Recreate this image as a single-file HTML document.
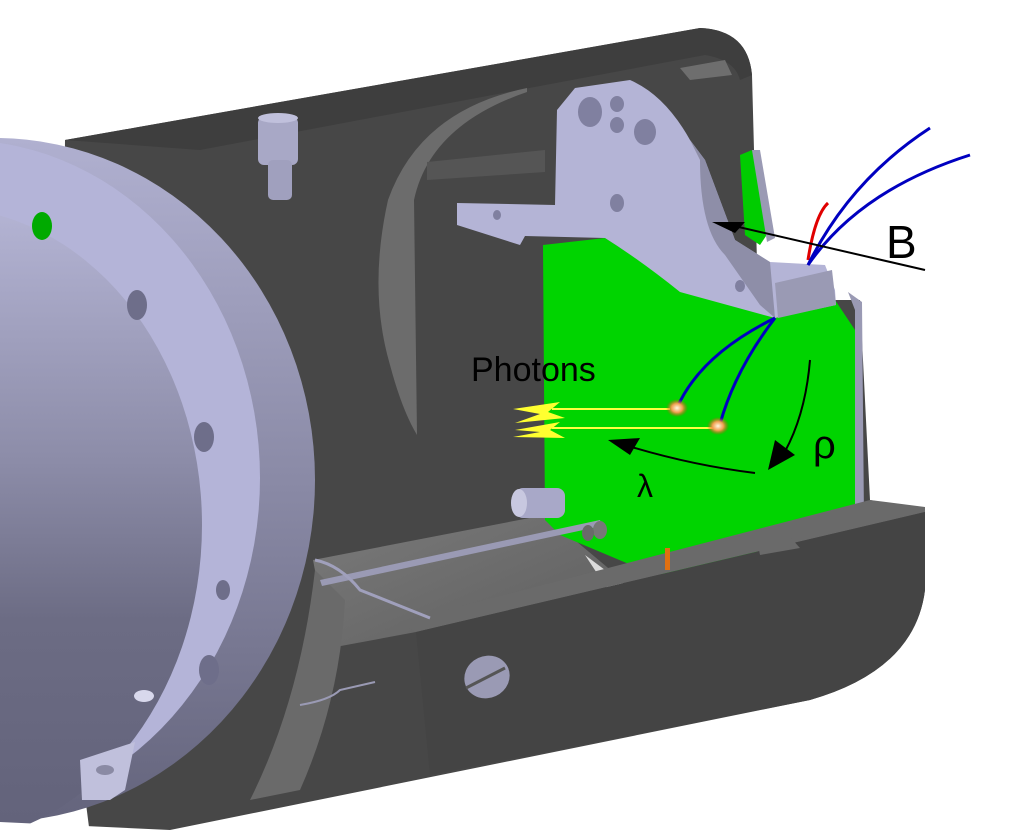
<!DOCTYPE html>
<html><head><meta charset="utf-8"><style>
html,body{margin:0;padding:0;background:#fff;overflow:hidden;}
svg{display:block;}
text{font-family:"Liberation Sans",sans-serif;}
</style></head><body>
<svg width="1024" height="835" viewBox="0 0 1024 835" xmlns="http://www.w3.org/2000/svg">
<defs>
<linearGradient id="dome" x1="0" y1="0" x2="0" y2="1">
<stop offset="0" stop-color="#b4b4d4"/><stop offset="0.4" stop-color="#8c8ca8"/><stop offset="0.65" stop-color="#6c6c84"/><stop offset="1" stop-color="#62627a"/></linearGradient>
<linearGradient id="rim" x1="0" y1="0" x2="0" y2="1">
<stop offset="0" stop-color="#b0b0d0"/><stop offset="0.5" stop-color="#8a8aa6"/><stop offset="1" stop-color="#64647c"/></linearGradient>
<linearGradient id="floor" x1="0" y1="0" x2="1" y2="1">
<stop offset="0" stop-color="#7a7a7a"/><stop offset="1" stop-color="#5e5e5e"/></linearGradient>
<radialGradient id="glow"><stop offset="0" stop-color="#fff8e0"/><stop offset="0.5" stop-color="#f0a050"/><stop offset="1" stop-color="#d04010" stop-opacity="0"/></radialGradient>
</defs>
<!-- housing base -->
<path d="M65,140 L700,28 Q748,30 752,75 L758,300 L860,300 L870,500 L925,510 L925,590 Q915,670 810,700 L170,830 L90,835 L60,600 Z" fill="#474747"/>
<path d="M65,140 L700,28 Q748,30 752,75 L740,80 Q735,60 705,55 L200,150 Z" fill="#3e3e3e"/>
<path d="M680,68 L725,60 L732,75 L690,80 Z" fill="#6e6e6e"/>
<!-- crescent -->
<path d="M527,88 Q420,110 388,200 Q368,290 390,365 Q402,410 417,435 L414,200 Q430,125 527,92 Z" fill="#6c6c6c"/>
<path d="M427,162 L545,150 L545,172 L427,180 Z" fill="#555"/>
<!-- floor -->
<path d="M313,560 L545,515 L620,578 L416,632 L330,648 Z" fill="url(#floor)"/>
<path d="M585,555 L625,585 L608,590 Z" fill="#dcdcdc"/>
<path d="M315,570 Q300,700 250,800 L300,790 Q340,700 345,600 Z" fill="#6a6a6a"/>
<!-- green panel -->
<path d="M543,245 L605,238 Q640,260 680,290 L775,318 L835,300 L855,330 L855,522 L757,540 L757,560 L655,575 L560,535 L545,520 Z" fill="#00d400"/>
<path d="M740,155 L752,150 L770,230 L760,245 L745,235 Z" fill="#00cc00"/>
<path d="M848,292 L862,302 L864,520 L855,522 L855,310 Z" fill="#9a9ab4"/>
<path d="M752,150 L760,150 L775,238 L767,242 Z" fill="#9a9ab4"/>
<!-- front cut face -->
<path d="M400,622 L870,500 L925,507 L925,512 L416,632 Z" fill="#6a6a6a"/>
<path d="M416,632 L925,512 L925,590 Q915,670 810,700 L430,775 Z" fill="#444"/>
<path d="M757,540 L790,537 L800,548 L760,555 Z" fill="#6a6a6a"/>
<ellipse cx="487" cy="677" rx="23" ry="21" fill="#9a9ab4" transform="rotate(-25 487 677)"/>
<path d="M466,688 L505,668" stroke="#555" stroke-width="3"/>
<!-- bracket -->
<path d="M557,110 L575,88 L630,80 Q665,95 690,140 L705,160 L735,240 L770,262 L825,265 L835,290 L836,305 L775,318 L680,292 Q640,260 605,238 L525,236 L520,245 L457,225 L457,203 L555,205 Z" fill="#b4b4d6"/>
<path d="M690,140 L705,160 L735,240 L770,262 L775,318 L760,305 L725,255 Q700,230 700,160 Z" fill="#8e8ea8"/>
<path d="M775,283 L832,270 L836,305 L778,318 Z" fill="#9a9ab4"/>
<g fill="#8080a0"><ellipse cx="590" cy="112" rx="12" ry="15"/><ellipse cx="617" cy="104" rx="7" ry="8"/><ellipse cx="617" cy="125" rx="7" ry="8"/><ellipse cx="645" cy="132" rx="11" ry="13"/><ellipse cx="617" cy="203" rx="7" ry="9"/><ellipse cx="740" cy="286" rx="5" ry="6"/><ellipse cx="497" cy="215" rx="4" ry="5"/></g>
<!-- screw top -->
<rect x="258" y="117" width="40" height="48" rx="6" fill="#a8a8c6"/>
<ellipse cx="278" cy="118" rx="20" ry="5" fill="#c0c0dc"/>
<rect x="268" y="160" width="24" height="40" rx="5" fill="#a0a0be"/>
<!-- pin -->
<rect x="515" y="488" width="50" height="30" rx="8" fill="#a8a8c8"/>
<ellipse cx="519" cy="503" rx="8" ry="14" fill="#c8c8e0"/>
<path d="M320,580 L600,520 L602,526 L322,586 Z" fill="#9a9ab4"/>
<path d="M315,560 Q340,565 360,590 L430,618" stroke="#a0a0bc" stroke-width="3" fill="none"/>
<path d="M300,705 Q330,700 340,690 L375,682" stroke="#9a9ab4" stroke-width="2" fill="none"/>
<ellipse cx="600" cy="530" rx="7" ry="9" fill="#777"/>
<ellipse cx="588" cy="533" rx="6" ry="8" fill="#6a6a6a"/>
<rect x="665" y="548" width="5" height="22" fill="#e07010"/>
<!-- flange -->
<ellipse cx="-5" cy="480" rx="320" ry="342" fill="url(#rim)"/>
<ellipse cx="-40" cy="478" rx="300" ry="338" fill="#b4b4d8"/>
<ellipse cx="-60" cy="525" rx="262" ry="318" fill="url(#dome)"/>
<g fill="#6e6e8a"><ellipse cx="137" cy="305" rx="10" ry="15"/><ellipse cx="204" cy="437" rx="10" ry="15"/><ellipse cx="223" cy="590" rx="7" ry="10"/><ellipse cx="209" cy="670" rx="10" ry="15"/></g>
<ellipse cx="144" cy="696" rx="10" ry="6" fill="#d8d8ec"/>
<ellipse cx="42" cy="226" rx="10" ry="14" fill="#00aa00"/>
<path d="M80,760 L135,742 L125,790 L110,800 L82,800 Z" fill="#c0c0dc"/>
<ellipse cx="105" cy="770" rx="9" ry="5" fill="#8a8aa4"/>
<path d="M0,822 L170,830 L170,835 L0,835 Z" fill="#fff"/>
<!-- annotations -->
<path d="M808,260 Q815,215 828,203" stroke="#e00000" stroke-width="3" fill="none"/>
<path d="M808,265 Q850,180 930,128" stroke="#0000c0" stroke-width="3" fill="none"/>
<path d="M808,265 Q860,190 970,155" stroke="#0000c0" stroke-width="3" fill="none"/>
<path d="M775,318 Q700,355 677,408" stroke="#0000c0" stroke-width="3" fill="none"/>
<path d="M775,318 Q735,370 720,424" stroke="#0000c0" stroke-width="3" fill="none"/>
<line x1="925" y1="270" x2="730" y2="225" stroke="#000" stroke-width="2"/>
<path d="M712,222 L745,222 L735,233 Z" fill="#000"/>
<line x1="670" y1="409" x2="552" y2="409" stroke="#ffff40" stroke-width="2"/>
<line x1="715" y1="428" x2="552" y2="428" stroke="#ffff40" stroke-width="2"/>
<path d="M513,409 L560,402 L548,412 L565,418 L515,423 L540,414 Z" fill="#ffff30"/>
<path d="M515,430 L560,422 L550,430 L565,438 L513,437 L540,432 Z" fill="#ffff30"/>
<ellipse cx="677" cy="408" rx="11" ry="9" fill="url(#glow)"/>
<ellipse cx="718" cy="426" rx="11" ry="9" fill="url(#glow)"/>
<path d="M810,360 Q805,420 780,460" stroke="#000" stroke-width="2" fill="none"/>
<path d="M768,470 L775,440 L795,455 Z" fill="#000"/>
<path d="M755,473 Q690,465 625,445" stroke="#000" stroke-width="2" fill="none"/>
<path d="M608,440 L640,438 L630,455 Z" fill="#000"/>
<text x="471" y="381" font-size="34">Photons</text>
<text x="886" y="258" font-size="46">B</text>
<text x="813" y="458" font-size="40">ρ</text>
<text x="637" y="497" font-size="32">λ</text>
</svg>
</body></html>
